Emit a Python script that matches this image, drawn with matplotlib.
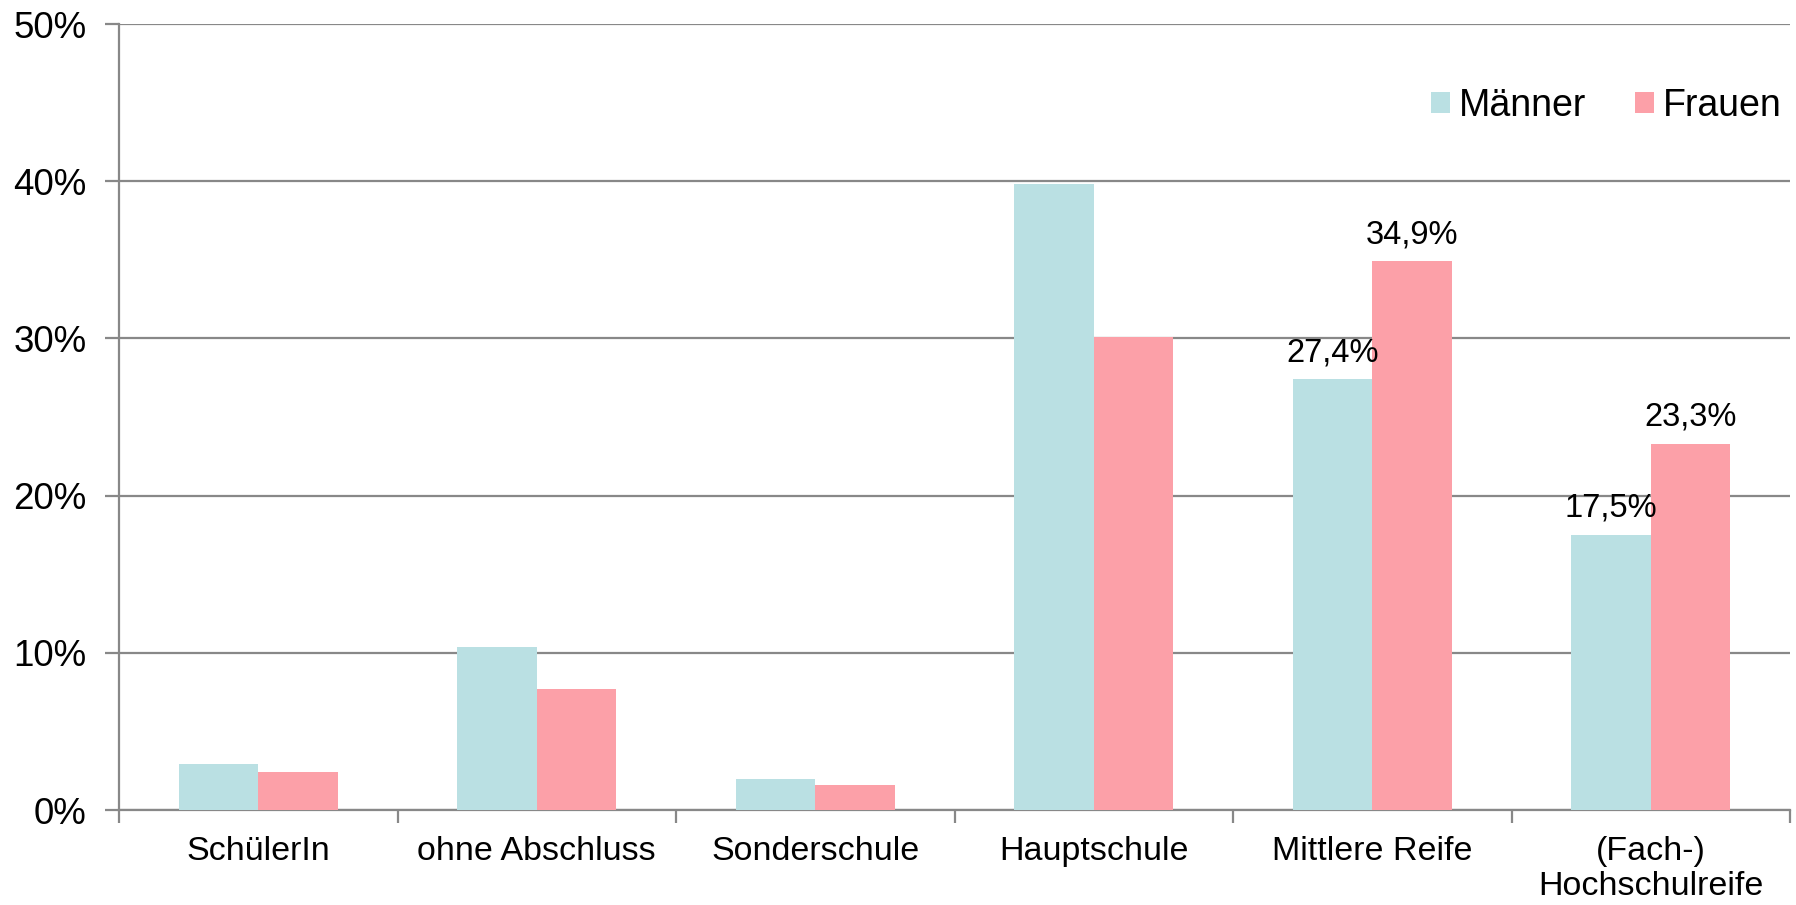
import matplotlib
matplotlib.use("Agg")
import matplotlib.pyplot as plt
import numpy as np

categories = ["SchülerIn", "ohne Abschluss", "Sonderschule", "Hauptschule",
              "Mittlere Reife", "(Fach-)\nHochschulreife"]
maenner = [2.9, 10.4, 2.0, 39.8, 27.4, 17.5]
frauen = [2.4, 7.7, 1.6, 30.1, 34.9, 23.3]
maenner_labels = [None, None, None, None, "27,4%", "17,5%"]
frauen_labels = [None, None, None, None, "34,9%", "23,3%"]
yticks = [0, 10, 20, 30, 40, 50]
ytick_labels = ["0%", "10%", "20%", "30%", "40%", "50%"]
series_names = ["Männer", "Frauen"]

c_m = "#BAE0E3"
c_f = "#FCA0A8"
grid_c = "#888888"

plt.rcParams['font.family'] = ['Liberation Sans', 'DejaVu Sans']

fig = plt.figure(figsize=(17.96, 9.05), dpi=100)
ax = fig.add_axes([119/1796, 1-810/905, (1790-119)/1796, (810-24)/905])

x = np.arange(len(categories))
w = 0.285
b1 = ax.bar(x - w/2, maenner, w, color=c_m, label=series_names[0], zorder=3)
b2 = ax.bar(x + w/2, frauen, w, color=c_f, label=series_names[1], zorder=3)

for bars, labs in ((b1, maenner_labels), (b2, frauen_labels)):
    for r, lab in zip(bars, labs):
        if lab:
            ax.annotate(lab, (r.get_x() + r.get_width()/2, r.get_height()),
                        xytext=(0, 8), textcoords="offset points",
                        ha="center", va="bottom", fontsize=23.5, color="black")

ax.set_xlim(-0.5, len(categories) - 0.5)
ax.set_ylim(0, 50)
ax.set_yticks(yticks)
ax.set_yticklabels(ytick_labels, fontsize=26.5)
ax.yaxis.grid(True, color=grid_c, linewidth=1.6, zorder=0)
ax.set_axisbelow(True)

ax.set_xticks(x)
ax.set_xticklabels(categories, fontsize=24.5, linespacing=1.15)
ax.set_xticks(np.arange(len(categories) + 1) - 0.5, minor=True)
ax.tick_params(axis="x", which="major", length=0, pad=19)
ax.tick_params(axis="x", which="minor", length=9, width=1.6, color=grid_c)
ax.tick_params(axis="y", length=10, width=1.6, color=grid_c, pad=13.5)

for s in ("top", "right"):
    ax.spines[s].set_visible(False)
for s in ("left", "bottom"):
    ax.spines[s].set_color(grid_c)
    ax.spines[s].set_linewidth(1.6)

leg = fig.legend(handles=[b1, b2], labels=series_names, loc="center right",
                 bbox_to_anchor=(1782/1796, 1-106/905), ncol=2, frameon=False,
                 fontsize=27, handlelength=0.5, handleheight=0.5,
                 handletextpad=0.25, columnspacing=1.3, borderpad=0,
                 borderaxespad=0)

fig.savefig("out.png", dpi=100)
